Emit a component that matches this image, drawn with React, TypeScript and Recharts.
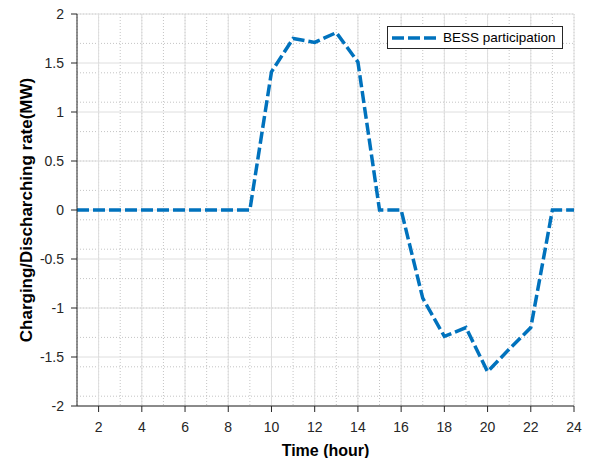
import { CartesianGrid, Line, LineChart, XAxis, YAxis } from "recharts";

// hourly BESS charging/discharging rate (MW)
const hours = [1, 2, 3, 4, 5, 6, 7, 8, 9, 10, 11, 12, 13, 14, 15, 16, 17, 18, 19, 20, 21, 22, 23, 24];
const bessRate = [0, 0, 0, 0, 0, 0, 0, 0, 0, 1.41, 1.75, 1.71, 1.81, 1.51, 0, 0, -0.9, -1.29, -1.2, -1.65, -1.42, -1.2, 0, 0];

const xTicks = [2, 4, 6, 8, 10, 12, 14, 16, 18, 20, 22, 24];
const yTicks = [-2, -1.5, -1, -0.5, 0, 0.5, 1, 1.5, 2];

// minor grid positions (MATLAB-style minor grid)
const xMinor: number[] = [];
for (let i = 2; i <= 48; i += 1) xMinor.push(i / 2);
const yMinor: number[] = [];
for (let i = -20; i <= 20; i += 1) yMinor.push(i / 10);

const data = hours.map((h, i) => ({ hour: h, rate: bessRate[i] }));

const BLUE = "#0072BD";
const FONT = "'Liberation Sans', Arial, Helvetica, sans-serif";

function LegendBox() {
  return (
    <div
      style={{
        position: "absolute",
        left: 387,
        top: 26,
        width: 174,
        height: 21,
        border: "1px solid #262626",
        background: "#fff",
        display: "flex",
        alignItems: "center",
        fontFamily: FONT,
        fontSize: 13.5,
        color: "#000",
      }}
    >
      <svg width={52} height={20} style={{ marginLeft: 2 }}>
        <line x1={2} y1={10} x2={49} y2={10} stroke={BLUE} strokeWidth={3.5} strokeDasharray="12 4" />
      </svg>
      <span style={{ marginLeft: 1 }}>BESS participation</span>
    </div>
  );
}

export default function App() {
  return (
    <div style={{ position: "absolute", left: 0, top: 0, width: 589, height: 458, background: "#fff" }}>
      <LineChart
        width={589}
        height={458}
        data={data}
        margin={{ top: 14, right: 15, bottom: 0, left: 0 }}
        style={{ fontFamily: FONT }}
      >
        <CartesianGrid
          horizontalValues={yMinor}
          verticalValues={xMinor}
          stroke="#c4c4c4"
          strokeWidth={1}
          strokeDasharray="1 2"
        />
        <CartesianGrid
          horizontalValues={yTicks}
          verticalValues={xTicks}
          stroke="#dedede"
          strokeWidth={1}
        />
        <XAxis
          dataKey="hour"
          type="number"
          domain={[1, 24]}
          ticks={xTicks}
          height={52}
          tickSize={6}
          tickMargin={10}
          allowDataOverflow
          axisLine={{ stroke: "#262626" }}
          tickLine={{ stroke: "#262626" }}
          tick={{ fill: "#262626", fontSize: 14 }}
          label={{
            value: "Time (hour)",
            position: "insideBottom",
            offset: 2,
            style: { fontWeight: "bold", fontSize: 16, fill: "#000" },
          }}
        />
        <YAxis
          type="number"
          domain={[-2, 2]}
          ticks={yTicks}
          width={77}
          tickSize={6}
          tickMargin={7}
          allowDataOverflow
          axisLine={{ stroke: "#262626" }}
          tickLine={{ stroke: "#262626" }}
          tick={{ fill: "#262626", fontSize: 14 }}
          label={{
            value: "Charging/Discharching rate(MW)",
            angle: -90,
            position: "insideLeft",
            offset: 26,
            style: { textAnchor: "middle", fontWeight: "bold", fontSize: 17, fill: "#000" },
          }}
        />
        <Line
          type="linear"
          dataKey="rate"
          name="BESS participation"
          stroke={BLUE}
          strokeWidth={3.5}
          strokeDasharray="12 4"
          dot={false}
          activeDot={false}
          isAnimationActive={false}
        />
      </LineChart>
      <LegendBox />
    </div>
  );
}
